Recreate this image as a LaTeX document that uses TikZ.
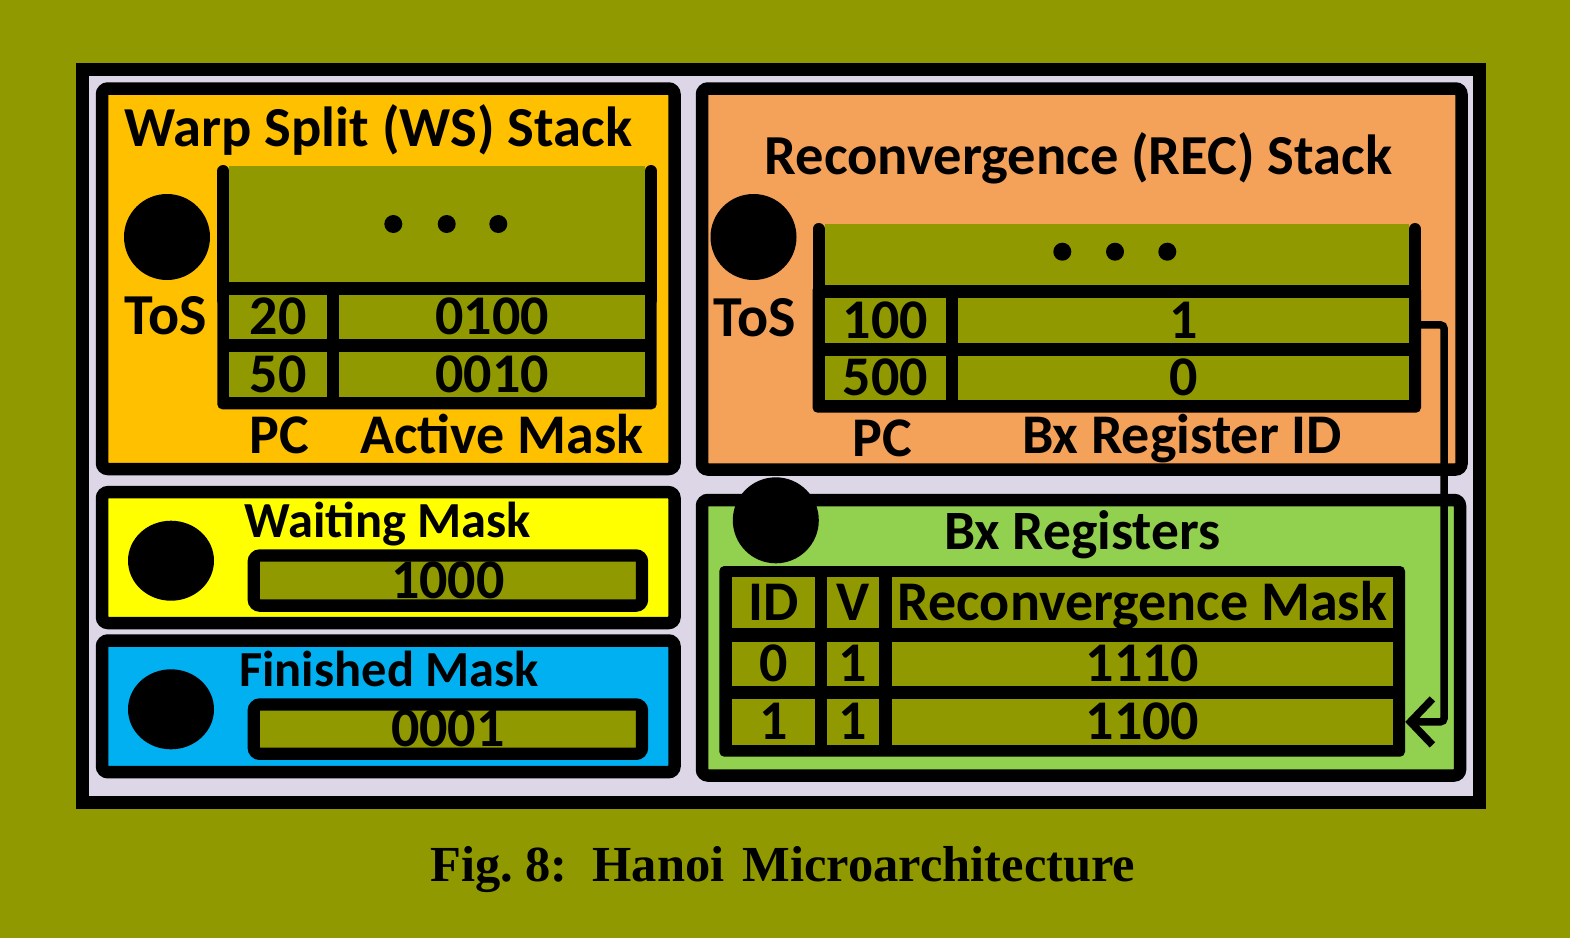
\documentclass[tikz,border=0pt]{standalone}
\usepackage{fontspec}
\setmainfont{Carlito}
\newfontfamily\capfont{Liberation Serif}
\usetikzlibrary{arrows.meta,fit,shapes.geometric}
\definecolor{bgolive}{RGB}{144,153,0}
\definecolor{lav}{RGB}{220,214,230}
\definecolor{wsorange}{RGB}{255,192,0}
\definecolor{recorange}{RGB}{244,161,90}
\definecolor{ylw}{RGB}{255,255,0}
\definecolor{blu}{RGB}{0,176,240}
\definecolor{grn}{RGB}{146,208,80}
\newcommand{\fsz}[1]{\fontsize{#1}{#1}\selectfont\bfseries}
% \boxnode[style]{name}{x1}{y1}{x2}{y2}{text}
\newcommand{\boxnode}[7][cell]{%
  \pgfmathsetmacro\mybw{#5-#3}\pgfmathsetmacro\mybh{#6-#4}%
  \pgfmathsetmacro\mybx{(#3+#5)/2}\pgfmathsetmacro\myby{(#4+#6)/2}%
  \node[#1, minimum width=\mybw pt, minimum height=\mybh pt] (#2) at (\mybx,\myby) {#7};}
\begin{document}
\begin{tikzpicture}[x=1pt,y=-1pt,
  panel/.style={draw=black, line width=12.5pt, rounded corners=6pt, inner sep=0pt},
  cell/.style={fill=bgolive, inner sep=0pt, font=\fsz{56}, text height=35pt, text depth=0pt},
  blob/.style={circle, fill=black, inner sep=0pt, minimum size=86pt},
  oblob/.style={ellipse, fill=black, inner sep=0pt, minimum width=86pt, minimum height=80pt},
  lbl/.style={inner sep=0pt, anchor=base},
  bar/.style={draw=black, fill=bgolive, line width=12.3pt, rounded corners=6pt, inner sep=0pt, font=\fsz{56}, text height=35pt, text depth=0pt},
  arrowline/.style={line width=7.5pt, rounded corners=4pt, -{Straight Barb[length=22pt,width=46pt]}}
]
\path[use as bounding box, fill=bgolive] (0,0) rectangle (1570,938);

% outer frame
\node[draw=black, line width=13pt, fill=lav, inner sep=0pt, fit={(82.5,69) (1479.5,802)}] (frame) {};

% panels
\node[panel, fill=wsorange, fit={(102,88.5) (674.5,469)}] (ws) {};
\node[panel, fill=recorange, fit={(702,88.5) (1461.5,469.5)}] (rec) {};
\node[panel, fill=ylw, fit={(102,492.2) (674.5,623)}] (wait) {};
\node[panel, fill=blu, fit={(102,640.5) (674.5,772.2)}] (fin) {};
\node[panel, fill=grn, fit={(702,500) (1460,775.5)}] (bx) {};

% ---------- WS stack ----------
\node[lbl, font=\fsz{56.5}] (wstitle) at (378.4,146) {Warp Split (WS) Stack};
\node[blob] (wsc) at (167,237) {};
\node[lbl, font=\fsz{58}] (wstos) at (166,334) {ToS};
\fill[black, rounded corners=5pt] (217.3,281.7) rectangle (656.7,409.3);
\draw[line width=12pt, line cap=round] (223.3,171) -- (223.3,300);
\draw[line width=12pt, line cap=round] (651,171) -- (651,300);
\boxnode{wsdots}{229.3}{166}{645}{281.7}{}
\fill (393.3,224) circle (9pt) (446.7,224) circle (9pt) (498.3,224) circle (9pt);
\boxnode{ws20}{229.3}{295}{326.7}{339}{20}
\boxnode{wsm1}{339}{295}{645}{339}{0100}
\boxnode{ws50}{229.3}{351.7}{326.7}{397.3}{50}
\boxnode{wsm2}{339}{351.7}{645}{397.3}{0010}
\node[lbl, font=\fsz{56}] (wspc) at (279,453.3) {PC};
\node[lbl, font=\fsz{56}] (wsam) at (502,453.3) {Active Mask};

% ---------- REC stack ----------
\node[lbl, font=\fsz{56.5}] (rectitle) at (1078.5,174) {Reconvergence (REC) Stack};
\node[blob] (recc) at (753.5,237) {};
\node[lbl, font=\fsz{58}] (rectos) at (755,336) {ToS};
\fill[black, rounded corners=5pt] (812.5,285) rectangle (1421,412.7);
\draw[line width=12pt, line cap=round] (818.5,229) -- (818.5,300);
\draw[line width=12pt, line cap=round] (1415,229) -- (1415,300);
\boxnode{recdots}{824.5}{224}{1409}{285}{}
\fill (1062.3,251.7) circle (9pt) (1115,251.7) circle (9pt) (1167.3,251.7) circle (9pt);
\boxnode{rec100}{824.5}{298.3}{946}{343.3}{100}
\boxnode{recm1}{958}{298.3}{1409}{343.3}{1}
\boxnode{rec500}{824.5}{356}{946}{400}{500}
\boxnode{recm2}{958}{356}{1409}{400}{0}
\node[lbl, font=\fsz{56}] (recpc) at (882,456) {PC};
\node[lbl, font=\fsz{56}] (recbx) at (1182,453.3) {Bx Register ID};

% ---------- Waiting / Finished ----------
\node[oblob] (waitc) at (171,560.7) {};
\node[lbl, font=\fsz{50.5}, anchor=base west] (waittitle) at (244,537.3) {Waiting Mask};
\boxnode[bar]{waitbar}{253.8}{555.5}{642}{605.6}{1000}
\node[oblob] (finc) at (171,709.3) {};
\node[lbl, font=\fsz{50.5}, anchor=base west] (fintitle) at (239,686.7) {Finished Mask};
\boxnode[bar]{finbar}{253.8}{704.5}{642}{753.8}{0001}

% ---------- Bx registers ----------
\node[blob] (bxc) at (775.8,520.3) {};
\node[lbl, font=\fsz{55.5}] (bxtitle) at (1082.5,549.3) {Bx Registers};
\node[fill=black, rounded corners=5pt, inner sep=0pt, fit={(719.3,566) (1405,756.7)}] (bxtab) {};
\boxnode{bxidh}{731.7}{577.3}{815}{628.3}{ID}
\boxnode{bxvh}{826.7}{577.3}{879.3}{628.3}{V}
\boxnode{bxmh}{891.7}{577.3}{1393.3}{628.3}{Reconvergence Mask}
\boxnode{bxid0}{731.7}{641.7}{815}{686}{0}
\boxnode{bxv0}{826.7}{641.7}{879.3}{686}{1}
\boxnode{bxm0}{891.7}{641.7}{1393.3}{686}{1110}
\boxnode{bxid1}{731.7}{699.3}{815}{744.5}{1}
\boxnode{bxv1}{826.7}{699.3}{879.3}{744.5}{1}
\boxnode{bxm1}{891.7}{699.3}{1393.3}{744.5}{1100}

% arrow
\draw[arrowline] ([yshift=-4pt]recm1.east) -- ++(35,0) |- (bxtab.east |- bxm1.center);

% caption
\node[lbl, anchor=base west, font=\capfont\bfseries\fontsize{50.5}{54}\selectfont] (caption) at (430,881) {Fig.~8:\hspace{25pt}Hanoi\hspace{18pt}Microarchitecture};
\end{tikzpicture}
\end{document}
